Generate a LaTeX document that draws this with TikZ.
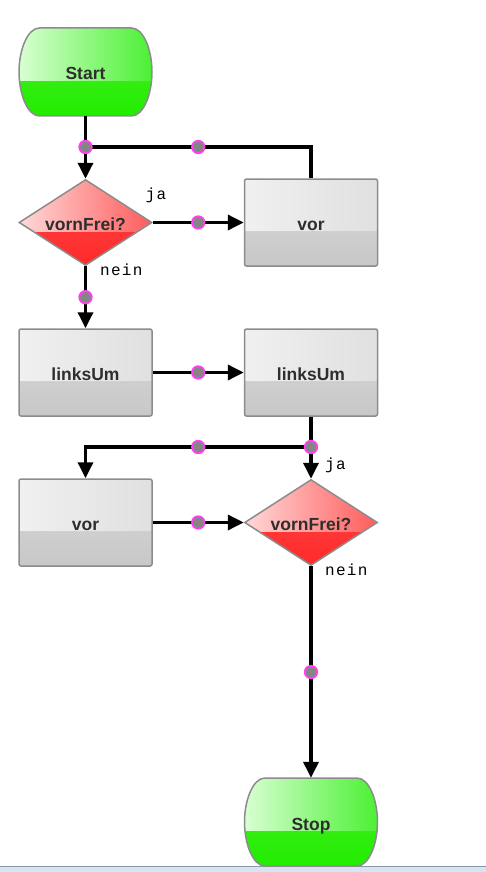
\documentclass[tikz,border=0pt]{standalone}
\usepackage{fontspec}
\setmainfont{Liberation Sans}
\newfontfamily\labfont{Liberation Mono}[LetterSpace=8]
\usetikzlibrary{arrows.meta,shapes.geometric,calc}
\definecolor{bordergray}{HTML}{8C8C8C}
\definecolor{textgray}{HTML}{2E2E2E}
\definecolor{greenA}{HTML}{D8FFD2}
\definecolor{greenB}{HTML}{4CF034}
\definecolor{greenC}{HTML}{4AF02A}
\definecolor{greenD}{HTML}{22EC00}
\definecolor{redA}{HTML}{FFD8D8}
\definecolor{redB}{HTML}{FF5C5C}
\definecolor{redC}{HTML}{FF4848}
\definecolor{redD}{HTML}{FF2A2A}
\definecolor{grayA}{HTML}{F0F0F0}
\definecolor{grayB}{HTML}{E0E0E0}
\definecolor{grayC}{HTML}{D8D8D8}
\definecolor{grayD}{HTML}{C8C8C8}
\definecolor{markpink}{HTML}{FF40F0}
\definecolor{markfill}{HTML}{858585}
\definecolor{barblue}{HTML}{D6E4F4}
\definecolor{barline}{HTML}{8A98A8}
\tikzset{
  glossy/.style n args={4}{top color=#3, bottom color=#4,
    path picture={\shade[left color=#1,right color=#2]
      (path picture bounding box.north west) rectangle
      ($(path picture bounding box.north east)!0.6!(path picture bounding box.south east)$);}},
  nodetext/.style={text=textgray, font=\bfseries\fontsize{17.5}{20}\selectfont,
    inner sep=0pt, text height=16pt, text depth=0pt},
  basenode/.style={nodetext, draw=bordergray, line width=1.5pt},
  termtext/.style={nodetext, rectangle, minimum width=133pt, minimum height=88pt},
  termfill/.style={draw=bordergray, line width=1.5pt, glossy={greenA}{greenB}{greenC}{greenD}},
  termshape/.pic={\path[termfill] (-66.5,0) .. controls (-66.5,-22) and (-58,-44) .. (-46,-44)
      -- (46,-44) .. controls (58,-44) and (66.5,-22) .. (66.5,0)
      .. controls (66.5,22) and (58,44) .. (46,44)
      -- (-46,44) .. controls (-58,44) and (-66.5,22) .. (-66.5,0) -- cycle;},
  decision/.style={basenode, diamond, aspect=1.5,
    minimum width=133pt, minimum height=86pt, glossy={redA}{redB}{redC}{redD}},
  action/.style={basenode, rectangle, rounded corners=2pt,
    minimum width=133pt, minimum height=87pt, glossy={grayA}{grayB}{grayC}{grayD}},
  conn/.style={line width=3.5pt, black},
  arr/.style={conn, -{Triangle[length=16pt,width=15pt]}},
  marker/.style={circle, draw=markpink, fill=markfill, line width=1.8pt,
    minimum size=12.5pt, inner sep=0pt},
  lab/.style={anchor=base west, inner sep=0pt, font=\labfont\fontsize{16}{18}\selectfont}
}
\begin{document}
\begin{tikzpicture}[x=1pt,y=-1pt]
\useasboundingbox (0,0) rectangle (486,872);
\fill[white] (0,0) rectangle (486,872);
\fill[barblue] (0,866) rectangle (486,872);
\draw[barline, line width=1.2pt] (0,866.6) -- (486,866.6);

% terminal outlines
\pic (startshape) at (85.5,72) {termshape};
\pic (stopshape) at (311,822) {termshape};

% nodes
\node[termtext] (start) at (85.5,72) {Start};
\node[decision] (d1) at (85.5,222.5) {vornFrei?};
\node[action] (vor1) at (311,222.5) {vor};
\node[action] (lu1) at (85.5,372.5) {linksUm};
\node[action] (lu2) at (311,372.5) {linksUm};
\node[action] (vor2) at (85.5,522.5) {vor};
\node[decision] (d2) at (311,522.5) {vornFrei?};
\node[termtext] (stop) at (311,822) {Stop};

\coordinate (j1) at (85.5,147);
\coordinate (j2) at (311,447);

% connectors
\draw[arr] (start.south) -- (d1.north);
\draw[conn] (vor1.north) |- (j1) node[marker,pos=0.75] (m2) {};
\draw[arr] (d1.east) -- (vor1.west) node[marker,midway] (m3) {};
\draw[arr] (d1.south) -- (lu1.north) node[marker,midway] (m4) {};
\draw[arr] (lu1.east) -- (lu2.west) node[marker,midway] (m5) {};
\draw[arr] (lu2.south) -- (d2.north);
\draw[arr] (j2) -| (vor2.north) node[marker,pos=0.25] (m7) {};
\draw[arr] (vor2.east) -- (d2.west) node[marker,midway] (m8) {};
\draw[arr] (d2.south) -- (stop.north) node[marker,midway] (m9) {};
\node[marker] (m1) at (j1) {};
\node[marker] (m6) at (j2) {};

% labels
\node[lab] (l1) at (145.5,199) {ja};
\node[lab] (l2) at (100,275) {nein};
\node[lab] (l3) at (325,469) {ja};
\node[lab] (l4) at (325,575) {nein};
\end{tikzpicture}
\end{document}
